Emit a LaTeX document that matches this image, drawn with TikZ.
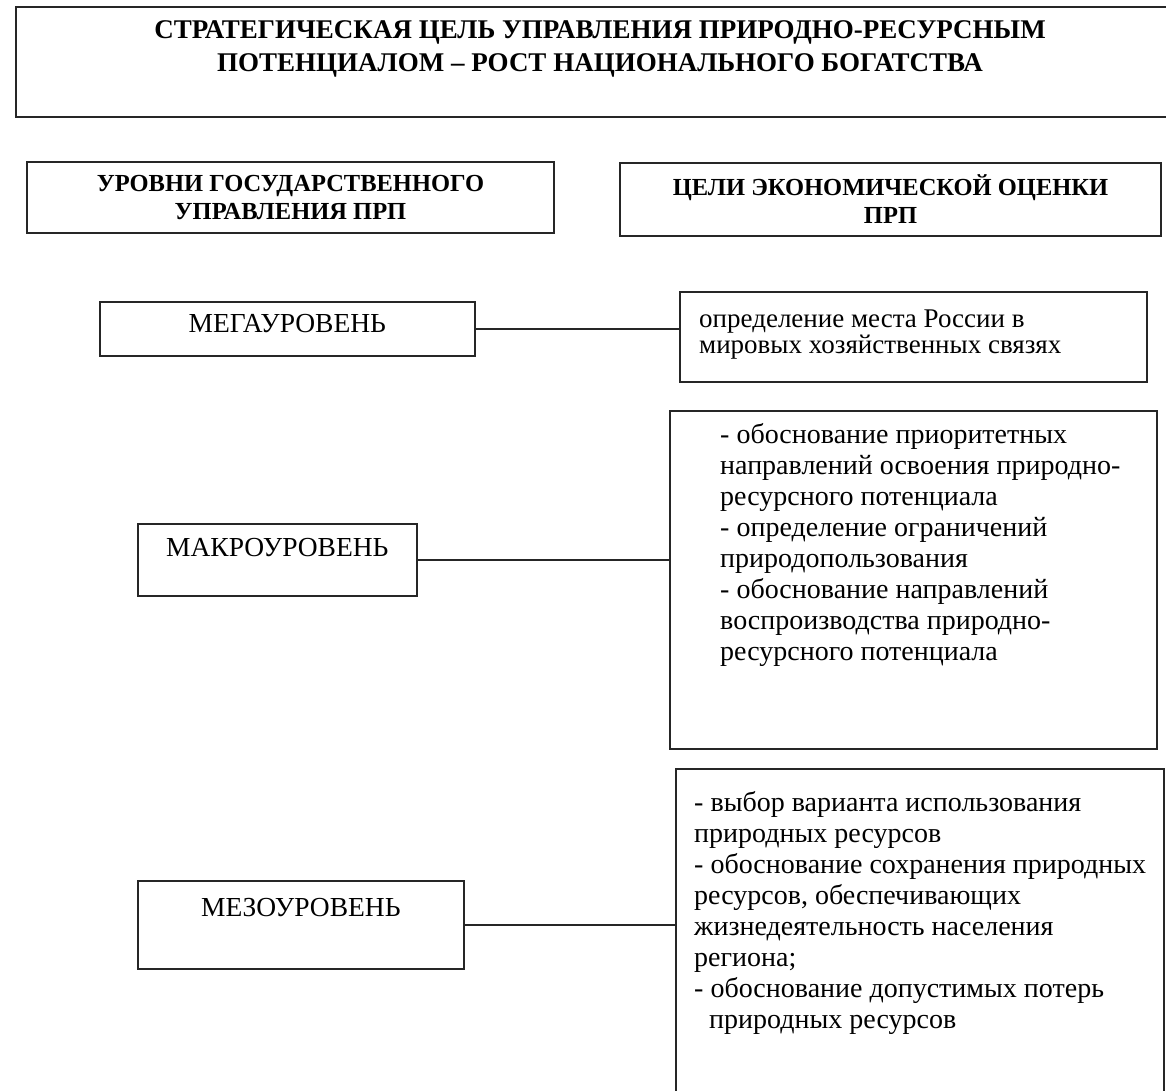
\documentclass[tikz,border=0pt]{standalone}
\usepackage{fontspec}
\setmainfont{Liberation Serif}
\usetikzlibrary{positioning}
\def\titlefont{\bfseries\fontsize{27}{33}\selectfont}
\def\headfont{\bfseries\fontsize{24.5}{28}\selectfont}
\def\lvlfont{\fontsize{27.5}{30}\selectfont}
\def\goalfont{\fontsize{28}{31}\selectfont}

\begin{document}
\begin{tikzpicture}[x=1pt,y=-1pt,
    box/.style={draw=black!85,line width=1.7pt,inner sep=0pt,anchor=north west},
    lvltext/.style={font=\lvlfont,inner sep=0pt},
    goaltext/.style={font=\goalfont,align=left,anchor=north west,inner sep=0pt},
    link/.style={draw=black!85,line width=1.7pt}]
\useasboundingbox (0,0) rectangle (1166,1091);
% strategic goal
\node[box,minimum width=1158,minimum height=110] (goal) at (15,6) {};
\node[font=\titlefont,align=center] (title) at (600,49)
  {СТРАТЕГИЧЕСКАЯ ЦЕЛЬ УПРАВЛЕНИЯ ПРИРОДНО-РЕСУРСНЫМ\\ПОТЕНЦИАЛОМ – РОСТ НАЦИОНАЛЬНОГО БОГАТСТВА};
% column headers
\node[box,anchor=center,minimum width=527,minimum height=71,font=\headfont,align=center] (levels) at (290.5,197.5)
  {УРОВНИ ГОСУДАРСТВЕННОГО\\УПРАВЛЕНИЯ ПРП};
\node[box,anchor=center,minimum width=541,minimum height=73,font=\headfont,align=center] (aims) at (890.5,199.5)
  {ЦЕЛИ ЭКОНОМИЧЕСКОЙ ОЦЕНКИ\\ПРП};
% levels
\node[box,minimum width=375,minimum height=54] (mega) at (99,301) {};
\node[lvltext,below=13pt of mega.north] (megatext) {МЕГАУРОВЕНЬ};
\node[box,minimum width=279,minimum height=72] (makro) at (137,523) {};
\node[lvltext,below=15pt of makro.north] (makrotext) {МАКРОУРОВЕНЬ};
\node[box,minimum width=326,minimum height=88] (mezo) at (137,880) {};
\node[lvltext,below=18pt of mezo.north] (mezotext) {МЕЗОУРОВЕНЬ};
% aims of the evaluation
\node[box,minimum width=467,minimum height=90] (megaaim) at (679,291) {};
\node[goaltext,font=\fontsize{27}{26}\selectfont] at (699,310)
  {определение места России в\\мировых хозяйственных связях};
\node[box,minimum width=487,minimum height=338] (makroaim) at (669,410) {};
\node[goaltext] at (720,423)
  {- обоснование приоритетных\\направлений освоения природно-\\ресурсного потенциала\\- определение ограничений\\природопользования\\- обоснование направлений\\воспроизводства природно-\\ресурсного потенциала};
\node[box,minimum width=488,minimum height=340] (mezoaim) at (675,768) {};
\node[goaltext] at (694,791)
  {- выбор варианта использования\\природных ресурсов\\- обоснование сохранения природных\\ресурсов, обеспечивающих\\жизнедеятельность населения\\региона;\\- обоснование допустимых потерь\\\hspace*{15pt}природных ресурсов};
% links
\draw[link] (mega.east) -- (mega.east -| megaaim.west);
\draw[link] (makro.east) -- (makro.east -| makroaim.west);
\draw[link] (mezo.east) -- (mezo.east -| mezoaim.west);
\end{tikzpicture}
\end{document}
